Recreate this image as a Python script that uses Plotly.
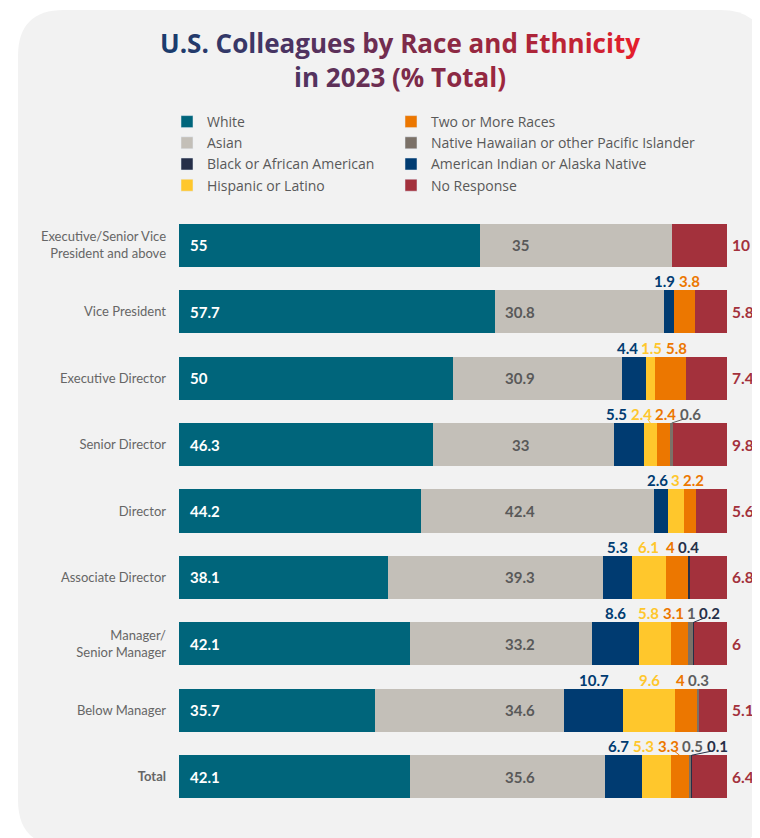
import plotly.graph_objects as go

# ---------------- data ----------------
categories = ["Executive/Senior Vice<br>President and above", "Vice President", "Executive Director",
              "Senior Director", "Director", "Associate Director", "Manager/<br>Senior Manager",
              "Below Manager", "<b>Total</b>"]

white = [55, 57.7, 50, 46.3, 44.2, 38.1, 42.1, 35.7, 42.1]
asian = [35, 30.8, 30.9, 33, 42.4, 39.3, 33.2, 34.6, 35.6]
black = [0, 1.9, 4.4, 5.5, 2.6, 5.3, 8.6, 10.7, 6.7]
hispanic = [0, 0, 1.5, 2.4, 3, 6.1, 5.8, 9.6, 5.3]
two_or_more = [0, 3.8, 5.8, 2.4, 2.2, 4, 3.1, 4, 3.3]
native_hawaiian = [0, 0, 0, 0.6, 0, 0, 1, 0.3, 0.5]
american_indian = [0, 0, 0, 0, 0, 0.4, 0.2, 0, 0.1]
no_response = [10, 5.8, 7.4, 9.8, 5.6, 6.8, 6, 5.1, 6.4]

legend_col1 = ["White", "Asian", "Black or African American", "Hispanic or Latino"]
legend_col2 = ["Two or More Races", "Native Hawaiian or other Pacific Islander",
               "American Indian or Alaska Native", "No Response"]

# ---------------- style ----------------
TEAL, SAND, BLUE, YELLOW, ORANGE, TAUPE, NAVY, RED = (
    "#00657b", "#c3bfb8", "#003b71", "#ffc72c", "#ec7700", "#7b7168", "#262f48", "#a3313c")
legend_colors = {"White": TEAL, "Two or More Races": ORANGE, "Asian": SAND,
                 "Native Hawaiian or other Pacific Islander": TAUPE,
                 "Black or African American": NAVY, "American Indian or Alaska Native": BLUE,
                 "Hispanic or Latino": YELLOW, "No Response": RED}
FONT = "Lato"
OFF = 8                      # page body margin
W, H = 760 - OFF, 838 - OFF
ML, MR, MT, MB = 179 - OFF, 33, 212 - OFF, 28
PW, PH = W - ML - MR, H - MT - MB
PX = PW / 100.0
BARW = 0.648

stack = [("White", white, TEAL), ("Asian", asian, SAND), ("Black or African American", black, BLUE),
         ("Hispanic or Latino", hispanic, YELLOW), ("Two or More Races", two_or_more, ORANGE),
         ("Native Hawaiian or other Pacific Islander", native_hawaiian, TAUPE),
         ("American Indian or Alaska Native", american_indian, NAVY), ("No Response", no_response, RED)]

rows = list(range(len(categories)))
fig = go.Figure()
for name, vals, col in stack:
    fig.add_trace(go.Bar(y=rows, x=vals, orientation="h", name=name, marker=dict(color=col, line=dict(width=0)),
                         showlegend=False, hoverinfo="x+name"))

for lg, names in (("legend", legend_col1), ("legend2", legend_col2)):
    for name in names:
        fig.add_trace(go.Bar(y=[None], x=[None], orientation="h", name=name, legend=lg,
                             marker=dict(color=legend_colors[name]), showlegend=True))

fmt = lambda v: f"{v:g}"
ann = []
shapes = []

# inside labels
for i in rows:
    ann.append(dict(x=0, y=i, xref="x", yref="y", text=fmt(white[i]), showarrow=False, xanchor="left",
                    xshift=9, font=dict(family=FONT, size=15, color="white", weight=700)))
    ann.append(dict(x=62.3, y=i, xref="x", yref="y", text=fmt(asian[i]), showarrow=False, xanchor="center",
                    font=dict(family=FONT, size=15, color="#595959", weight=700)))
    ann.append(dict(x=100, y=i, xref="x", yref="y", text=fmt(no_response[i]), showarrow=False, xanchor="left",
                    xshift=3, font=dict(family=FONT, size=15.5, color=RED, weight=700)))

# small-category labels above the bars, spread to avoid overlap
small = [(black, BLUE), (hispanic, YELLOW), (two_or_more, ORANGE), (native_hawaiian, "#5e5e5e"),
         (american_indian, NAVY)]
GAP = 3


def tw(s):
    return sum(4.2 if c == "." else 8.7 for c in s)


for i in rows:
    cum = white[i] + asian[i]
    items = []
    for vals, col in small:
        v = vals[i]
        if v > 0:
            t = fmt(v)
            items.append(dict(t=t, col=col, c=(cum + v / 2) * PX, w=tw(t), half=v * PX / 2))
        cum += v
    clusters = [[it] for it in items]

    def place(cl):
        tot = sum(it["w"] for it in cl) + GAP * (len(cl) - 1)
        ctr = sum(it["c"] for it in cl) / len(cl)
        left = ctr - tot / 2
        for it in cl:
            it["p"] = left + it["w"] / 2
            left += it["w"] + GAP

    for cl in clusters:
        place(cl)
    changed = True
    while changed:
        changed = False
        for k in range(len(clusters) - 1):
            a, b = clusters[k], clusters[k + 1]
            if a[-1]["p"] + a[-1]["w"] / 2 + GAP > b[0]["p"] - b[0]["w"] / 2:
                clusters[k] = a + b
                del clusters[k + 1]
                place(clusters[k])
                changed = True
                break
    top = i - BARW / 2
    for cl in clusters:
        for it in cl:
            ann.append(dict(x=it["p"] / PX, y=top, xref="x", yref="y", text=it["t"], showarrow=False,
                            xanchor="center", yanchor="middle", yshift=9,
                            font=dict(family=FONT, size=15, color=it["col"], weight=700)))
            d = it["p"] - it["c"]
            if abs(d) > it["half"] + 1.5:
                sgn = 1 if d > 0 else -1
                start = it["p"] - sgn * it["w"] * 0.3
                shapes.append(dict(type="line", xref="x", yref="y", x0=it["c"] / PX, x1=start / PX,
                                   ysizemode="pixel", yanchor=top, y0=0, y1=4,
                                   line=dict(color=it["col"], width=1)))


# rounded card background (paper coordinates; arguments in page pixels)
def px2paper(x, y):
    return (x - OFF - ML) / PW, (H - MB - (y - OFF)) / PH


def card_path(x0, y0, x1, y1, r):
    P = lambda x, y: "%.5f,%.5f" % px2paper(x, y)
    return ("M" + P(x0 + r, y0) + " L" + P(x1 - r, y0) + " Q" + P(x1, y0) + " " + P(x1, y0 + r) +
            " L" + P(x1, y1 - r) + " Q" + P(x1, y1) + " " + P(x1 - r, y1) +
            " L" + P(x0 + r, y1) + " Q" + P(x0, y1) + " " + P(x0, y1 - r) +
            " L" + P(x0, y0 + r) + " Q" + P(x0, y0) + " " + P(x0 + r, y0) + " Z")


shapes.insert(0, dict(type="path", xref="paper", yref="paper", path=card_path(18, 10, 766, 846, 46),
                      fillcolor="#f2f2f2", line=dict(width=0), layer="below"))

# gradient title (stops in page pixels)
stops = [(160, (24, 60, 110)), (300, (76, 52, 98)), (420, (128, 42, 72)), (520, (168, 38, 58)),
         (640, (230, 30, 44))]


def grad(x):
    if x <= stops[0][0]:
        return stops[0][1]
    for (xa, ca), (xb, cb) in zip(stops, stops[1:]):
        if x <= xb:
            f = (x - xa) / (xb - xa)
            return tuple(round(ca[k] + f * (cb[k] - ca[k])) for k in range(3))
    return stops[-1][1]


def colorize(line, x0, x1):
    out = []
    n = len(line)
    for k, ch in enumerate(line):
        x = x0 + (k + 0.5) / n * (x1 - x0)
        c = grad(x)
        out.append("<span style='color:rgb(%d,%d,%d)'>%s</span>" % (c[0], c[1], c[2], ch))
    return "".join(out)


title_line1 = "U.S. Colleagues by Race and Ethnicity"
title_line2 = "in 2023 (% Total)"
title_text = colorize(title_line1, 161, 640) + "<br>" + colorize(title_line2, 298, 500)

leg_font = dict(family="Open Sans", size=14, color="#595959")
leg_top = (H - MB - (106 - OFF)) / PH
fig.update_layout(
    width=W, height=H,
    margin=dict(l=ML, r=MR, t=MT, b=MB),
    paper_bgcolor="white", plot_bgcolor="rgba(0,0,0,0)",
    barmode="stack", bargap=1 - BARW,
    title=dict(text=title_text, x=(400 - OFF) / W, xanchor="center", xref="container",
               y=1 - 45 / H, yanchor="top", yref="container",
               font=dict(family="Open Sans", size=26, weight=700)),
    legend=dict(orientation="v", x=(187 - 20 - OFF - ML) / PW, xanchor="left", y=leg_top, yanchor="top",
                traceorder="normal", font=leg_font, bgcolor="rgba(0,0,0,0)", itemwidth=30),
    legend2=dict(orientation="v", x=(411 - 20 - OFF - ML) / PW, xanchor="left", y=leg_top, yanchor="top",
                 traceorder="normal", font=leg_font, bgcolor="rgba(0,0,0,0)", itemwidth=30),
    xaxis=dict(range=[0, 100], visible=False, fixedrange=True),
    yaxis=dict(range=[len(categories) - 0.5, -0.5], tickvals=rows, ticktext=categories, ticks="",
               ticklabelstandoff=12, showgrid=False, zeroline=False, showline=False,
               tickfont=dict(family=FONT, size=13, color="#666666")),
    annotations=ann, shapes=shapes,
)

fig.write_html("out.html")
